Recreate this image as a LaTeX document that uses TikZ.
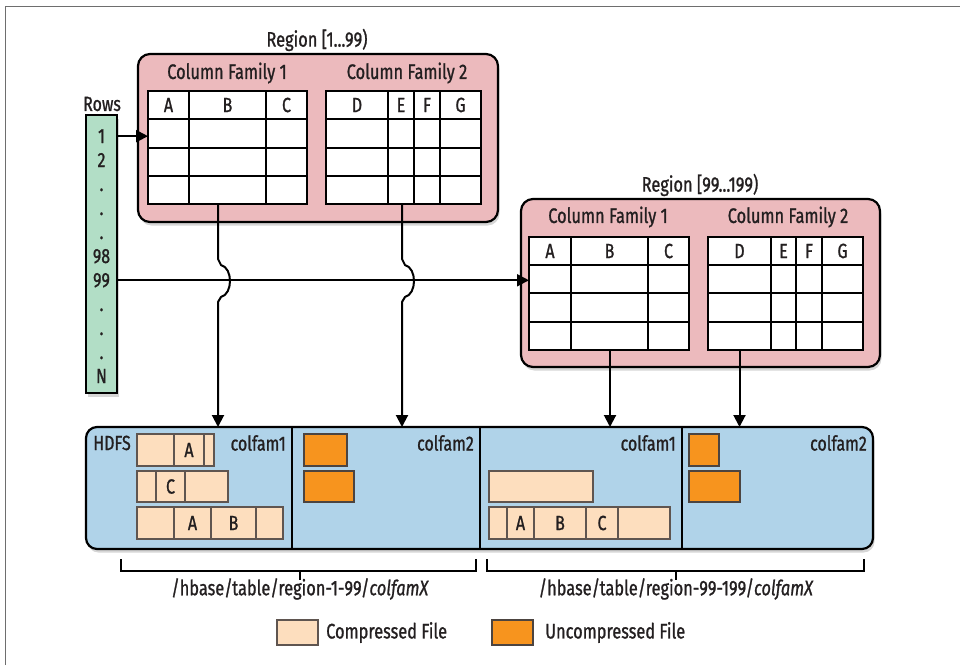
\documentclass[tikz,border=0pt]{standalone}
\usepackage{fontspec}
\setmainfont{Fira Sans}[FakeStretch=0.78, FakeBold=1]
\usetikzlibrary{arrows.meta,shadows}
\definecolor{regpink}{RGB}{236,186,189}
\definecolor{rowgreen}{RGB}{178,222,198}
\definecolor{hdfsblue}{RGB}{176,211,233}
\definecolor{comppeach}{RGB}{253,222,190}
\definecolor{uncomporange}{RGB}{247,148,30}
\definecolor{framegray}{RGB}{110,110,110}
\definecolor{cellborder}{RGB}{95,85,80}
\definecolor{inkc}{RGB}{35,31,32}
\begin{document}
\begin{tikzpicture}[x=1pt,y=-1pt,
  font=\fontsize{20.5}{24}\selectfont, text=inkc,
  big/.style={font=\fontsize{21}{25}\selectfont},
  box/.style={inner sep=0pt, outer sep=0pt, anchor=north west},
  shade/.style={drop shadow={shadow xshift=1.5pt, shadow yshift=-3.5pt, opacity=0.32}},
  regionbox/.style={box, shade, draw=black, line width=2.2pt, fill=regpink, rounded corners=12pt},
  rowsbox/.style={box, shade, draw=black, line width=2.2pt, fill=rowgreen},
  hdfsbox/.style={box, shade, draw=black, line width=2.2pt, fill=hdfsblue, rounded corners=11pt},
  tablebox/.style={box, draw=black, line width=2.2pt, fill=white},
  gridline/.style={draw=black, line width=2.2pt},
  divline/.style={draw=black, line width=1.9pt},
  comp/.style={fill=comppeach, draw=cellborder, line width=1.5pt},
  uncomp/.style={fill=uncomporange, draw=cellborder!80!black, line width=1.5pt},
  cellline/.style={draw=cellborder, line width=1.5pt},
  lbl/.style={inner sep=0pt},
  rowlbl/.style={inner sep=0pt, anchor=base},
  conn/.style={draw=black, line width=2pt},
  arr/.style={-{Triangle[length=12pt,width=12pt]}},
  bracket/.style={draw=black, line width=1.9pt}
]
\useasboundingbox (0,0) rectangle (960,665);
\fill[white] (0,0) rectangle (960,665);
\draw[framegray, line width=1.8pt] (5.5,665) -- (5.5,6.5) -- (960,6.5);

% ---------- Region 1 ----------
\node[regionbox, minimum width=360pt, minimum height=168pt] (r1) at (138,54) {};
\node[big, lbl] (r1t) at (317,40) {Region [1...99)};
\node[big, lbl] (cf11) at (227,73) {Column Family 1};
\node[big, lbl] (cf12) at (407,73) {Column Family 2};
\node[tablebox, minimum width=159pt, minimum height=113pt] (t11) at (148,91) {};
\node[tablebox, minimum width=155pt, minimum height=113pt] (t12) at (326,91) {};
\foreach \y in {119,148,176} {
  \draw[gridline] (148,\y) -- (307,\y);
  \draw[gridline] (326,\y) -- (481,\y);
}
\foreach \x in {189,266} \draw[gridline] (\x,91) -- (\x,204);
\foreach \x in {388,414,440} \draw[gridline] (\x,91) -- (\x,204);
\node[lbl] (h11a) at (168.5,105) {A};
\node[lbl] (h11b) at (227.5,105) {B};
\node[lbl] (h11c) at (286.5,105) {C};
\node[lbl] (h12d) at (357,105) {D};
\node[lbl] (h12e) at (401,105) {E};
\node[lbl] (h12f) at (427,105) {F};
\node[lbl] (h12g) at (460.5,105) {G};

% ---------- Region 2 ----------
\node[regionbox, minimum width=359pt, minimum height=168pt] (r2) at (521,199) {};
\node[big, lbl] (r2t) at (700,185) {Region [99...199)};
\node[big, lbl] (cf21) at (608,217) {Column Family 1};
\node[big, lbl] (cf22) at (788,217) {Column Family 2};
\node[tablebox, minimum width=160pt, minimum height=113pt] (t21) at (529,237) {};
\node[tablebox, minimum width=155pt, minimum height=113pt] (t22) at (708,237) {};
\foreach \y in {265,293,322} {
  \draw[gridline] (529,\y) -- (689,\y);
  \draw[gridline] (708,\y) -- (863,\y);
}
\foreach \x in {571,648} \draw[gridline] (\x,237) -- (\x,350);
\foreach \x in {771,796,822} \draw[gridline] (\x,237) -- (\x,350);
\node[lbl] (h21a) at (550,251) {A};
\node[lbl] (h21b) at (609.5,251) {B};
\node[lbl] (h21c) at (668.5,251) {C};
\node[lbl] (h22d) at (739.5,251) {D};
\node[lbl] (h22e) at (783.5,251) {E};
\node[lbl] (h22f) at (809,251) {F};
\node[lbl] (h22g) at (842.5,251) {G};

% ---------- Rows ----------
\node[rowsbox, minimum width=31pt, minimum height=278pt] (rows) at (86,115) {};
\node[lbl] (rowst) at (102,104) {Rows};
\node[rowlbl] (l1)  at (101.5,143) {1};
\node[rowlbl] (l2)  at (101.5,167) {2};
\node[rowlbl] (l3)  at (101.5,191) {.};
\node[rowlbl] (l4)  at (101.5,215) {.};
\node[rowlbl] (l5)  at (101.5,239) {.};
\node[rowlbl] (l98) at (101.5,263) {98};
\node[rowlbl] (l99) at (101.5,287) {99};
\node[rowlbl] (l6)  at (101.5,311) {.};
\node[rowlbl] (l7)  at (101.5,335) {.};
\node[rowlbl] (l8)  at (101.5,359) {.};
\node[rowlbl] (lN)  at (101.5,383) {N};

% ---------- HDFS ----------
\node[hdfsbox, minimum width=787pt, minimum height=122pt] (hdfs) at (86,427) {};
\foreach \x in {292,480,682} \draw[divline] (\x,427) -- (\x,549);
\node[lbl] (hdfst) at (112,443) {HDFS};
\node[lbl, anchor=east] (cfa1) at (286,443) {colfam1};
\node[lbl, anchor=east] (cfa2) at (474,443) {colfam2};
\node[lbl, anchor=east] (cfb1) at (676,443) {colfam1};
\node[lbl, anchor=east] (cfb2) at (867,443) {colfam2};

% files, region 1 colfam1
\draw[comp] (137,434) rectangle (214,466);
\draw[cellline] (174,434) -- (174,466) (204,434) -- (204,466);
\node[lbl] (fa1) at (189,450) {A};
\draw[comp] (137,471) rectangle (228,502);
\draw[cellline] (156,471) -- (156,502) (185,471) -- (185,502);
\node[lbl] (fa2) at (170.5,486.5) {C};
\draw[comp] (137,507) rectangle (283,539);
\draw[cellline] (174,507) -- (174,539) (211,507) -- (211,539) (256,507) -- (256,539);
\node[lbl] (fa3) at (192.5,523) {A};
\node[lbl] (fa4) at (233.5,523) {B};
% region 1 colfam2
\draw[uncomp] (304,434) rectangle (347,466);
\draw[uncomp] (304,471) rectangle (354,502);
% region 2 colfam1
\draw[comp] (489,471) rectangle (593,502);
\draw[comp] (489,507) rectangle (670,539);
\draw[cellline] (507,507) -- (507,539) (534,507) -- (534,539) (586,507) -- (586,539) (618,507) -- (618,539);
\node[lbl] (fb1) at (520.5,523) {A};
\node[lbl] (fb2) at (560,523) {B};
\node[lbl] (fb3) at (602,523) {C};
% region 2 colfam2
\draw[uncomp] (689,434) rectangle (719,466);
\draw[uncomp] (689,471) rectangle (740,502);

% ---------- connectors ----------
\draw[conn, arr] (rows.east |- l1) -- (t11.west |- l1);
\draw[conn, arr] (rows.east |- l99) -- (t21.west |- l99);
\coordinate (c1) at ([xshift=-9.5pt]t11.south);
\coordinate (c2) at ([xshift=-1.5pt]t12.south);
\coordinate (c3) at ([xshift=1pt]t21.south);
\coordinate (c4) at ([xshift=-46pt]t22.south);
\draw[conn, arr] (c1) -- (218,259) -- (221,265) .. controls (233,268) and (233,294) .. (221,297) -- (218,302) -- (c1 |- hdfs.north);
\draw[conn, arr] (c2) -- (402,259) -- (405,265) .. controls (417,268) and (417,294) .. (405,297) -- (402,302) -- (c2 |- hdfs.north);
\draw[conn, arr] (c3) -- (c3 |- hdfs.north);
\draw[conn, arr] (c4) -- (c4 |- hdfs.north);

% ---------- brackets ----------
\draw[bracket] (121,559) -- (121,571) -- (476,571) -- (476,559);
\draw[bracket] (300,571) -- (300,580);
\draw[bracket] (487,559) -- (487,571) -- (864,571) -- (864,559);
\draw[bracket] (676,571) -- (676,580);
\node[big, lbl] (p1) at (300,589) {/hbase/table/region-1-99/\textit{colfamX}};
\node[big, lbl] (p2) at (676,589) {/hbase/table/region-99-199/\textit{colfamX}};

% ---------- legend ----------
\node[box, comp, minimum width=41pt, minimum height=25pt] (lgc) at (277,620) {};
\node[big, lbl, anchor=west] (lgct) at ([xshift=8pt]lgc.east) {Compressed File};
\node[box, uncomp, minimum width=41pt, minimum height=25pt] (lgu) at (492,620) {};
\node[big, lbl, anchor=west] (lgut) at ([xshift=12pt]lgu.east) {Uncompressed File};
\end{tikzpicture}
\end{document}
